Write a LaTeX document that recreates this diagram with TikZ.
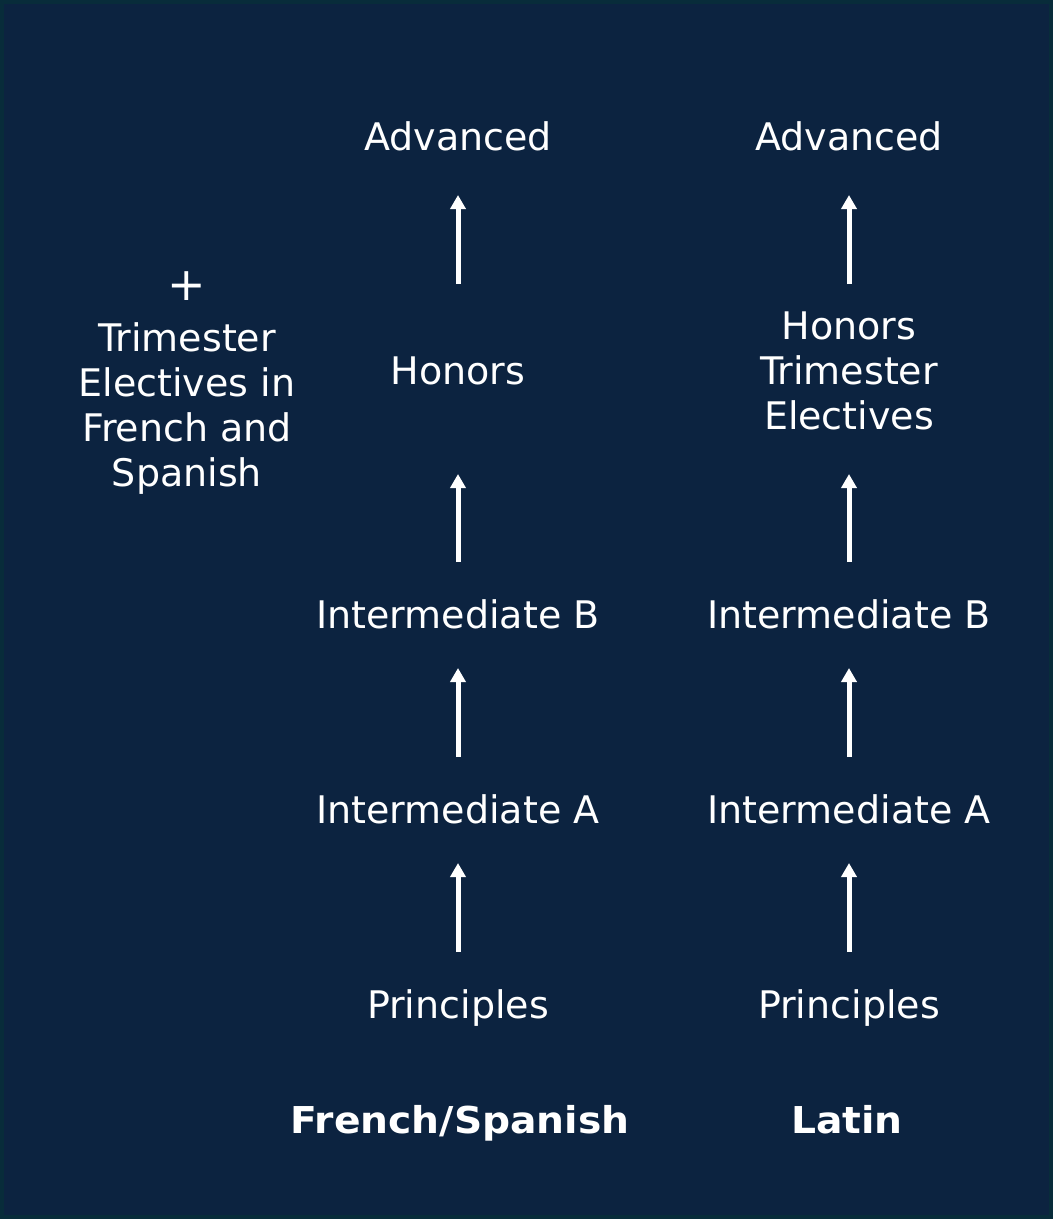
\documentclass[tikz,border=0pt]{standalone}
\usepackage{fontspec}
\setmainfont{DejaVu Sans}
\newfontfamily\boldwide[FakeStretch=1.06]{DejaVu Sans Bold}
\usetikzlibrary{arrows.meta}
\definecolor{bg}{RGB}{12,35,64}
\definecolor{edge}{RGB}{8,44,58}
\tikzset{
  lbl/.style={text=white, inner sep=0pt, anchor=center, text height=27pt, text depth=0pt,
    font=\fontsize{38}{45}\selectfont},
  ttl/.style={lbl, font=\boldwide\fontsize{37}{45}\selectfont},
  arr/.style={draw=white, line width=5pt, -{Triangle[width=15pt,length=14pt]}},
}
\begin{document}
\begin{tikzpicture}[x=1pt,y=-1pt]
\useasboundingbox (0,0) rectangle (1053,1219);
\fill[bg] (0,0) rectangle (1053,1219);
\draw[edge, line width=4pt] (2,2) rectangle (1051,1217);
% left column
\node[lbl, font=\fontsize{46}{45}\selectfont] (plus) at (187,287) {+};
\node[lbl] (l1) at (187,338) {Trimester};
\node[lbl] (l2) at (187,383) {Electives in};
\node[lbl] (l3) at (187,428) {French and};
\node[lbl] (l4) at (187,473) {Spanish};
% French/Spanish column
\node[lbl] (fadv) at (458,137) {Advanced};
\node[lbl] (fhon) at (458,371) {Honors};
\node[lbl] (fib) at (458,615) {Intermediate B};
\node[lbl] (fia) at (458,810) {Intermediate A};
\node[lbl] (fpr) at (458,1005) {Principles};
\node[ttl] (ftitle) at (460,1120) {French/Spanish};
% Latin column
\node[lbl] (ladv) at (849,137) {Advanced};
\node[lbl] (lhon1) at (849,326) {Honors};
\node[lbl] (lhon) at (849,371) {Trimester};
\node[lbl] (lhon3) at (849,416) {Electives};
\node[lbl] (lib) at (849,615) {Intermediate B};
\node[lbl] (lia) at (849,810) {Intermediate A};
\node[lbl] (lpr) at (849,1005) {Principles};
\node[ttl] (ltitle) at (847,1120) {Latin};
% arrows
\foreach \c in {f,l}{
  \draw[arr, shorten <=53pt, shorten >=53pt] (\c pr.center) -- (\c ia.center);
  \draw[arr, shorten <=53pt, shorten >=53pt] (\c ia.center) -- (\c ib.center);
  \draw[arr, shorten <=53pt, shorten >=103pt] (\c ib.center) -- (\c hon.center);
  \draw[arr, shorten <=87pt, shorten >=58pt] (\c hon.center) -- (\c adv.center);
}
\end{tikzpicture}
\end{document}
